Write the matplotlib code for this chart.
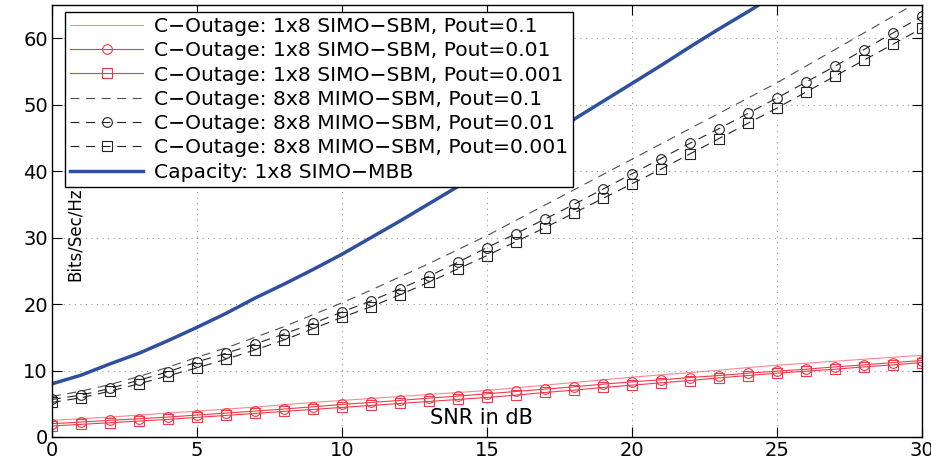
import numpy as np
import matplotlib
matplotlib.use("Agg")
import matplotlib.pyplot as plt

snr = list(range(0, 31))

s_p1 = [2.5, 2.75, 3.0, 3.3, 3.6, 3.9, 4.2, 4.5, 4.85, 5.2, 5.5, 5.8, 6.1, 6.4, 6.7, 7.0,
        7.4, 7.8, 8.2, 8.6, 9.0, 9.35, 9.7, 10.05, 10.45, 10.8, 11.1, 11.4, 11.7, 12.0, 12.3]
s_p01 = [2.0, 2.25, 2.5, 2.75, 3.0, 3.3, 3.6, 3.9, 4.2, 4.55, 4.9, 5.2, 5.5, 5.85, 6.15, 6.5,
         6.85, 7.2, 7.55, 7.95, 8.3, 8.6, 8.95, 9.25, 9.6, 9.9, 10.2, 10.55, 10.85, 11.2, 11.5]
s_p001 = [1.65, 1.9, 2.15, 2.4, 2.65, 2.95, 3.25, 3.55, 3.85, 4.15, 4.45, 4.75, 5.05, 5.35, 5.65, 5.95,
          6.3, 6.7, 7.05, 7.45, 7.8, 8.15, 8.5, 8.9, 9.25, 9.6, 9.9, 10.2, 10.55, 10.85, 11.2]

m_p1 = [6.1, 6.9, 7.9, 9.1, 10.5, 12.0, 13.4, 15.0, 16.6, 18.4, 20.2, 22.1, 24.1, 26.1, 28.2, 30.3,
        32.6, 34.9, 37.2, 39.5, 41.8, 44.1, 46.4, 48.7, 51.0, 53.3, 55.8, 58.3, 60.8, 63.3, 65.8]
m_p01 = [5.65, 6.3, 7.3, 8.55, 9.8, 11.3, 12.6, 14.0, 15.5, 17.1, 18.8, 20.5, 22.3, 24.2, 26.3, 28.5,
         30.6, 32.8, 35.0, 37.3, 39.6, 41.9, 44.2, 46.4, 48.7, 51.0, 53.4, 55.8, 58.3, 60.8, 63.3]
m_p001 = [5.2, 5.9, 6.9, 8.0, 9.2, 10.4, 11.7, 13.1, 14.6, 16.3, 18.0, 19.6, 21.4, 23.3, 25.3, 27.3,
          29.4, 31.5, 33.7, 35.9, 38.1, 40.3, 42.6, 44.9, 47.2, 49.5, 51.9, 54.3, 56.7, 59.1, 61.5]

cap = [8.0, 9.3, 11.0, 12.6, 14.5, 16.5, 18.6, 20.9, 23.0, 25.2, 27.5, 30.0, 32.5, 35.1, 37.7, 40.3,
       42.8, 45.3, 47.8, 50.5, 53.2, 55.9, 58.7, 61.4, 64.0, 66.7, 69.4, 72.1, 74.8, 77.5, 80.2]

labels = ["C\u2212Outage: 1x8 SIMO\u2212SBM, Pout=0.1",
          "C\u2212Outage: 1x8 SIMO\u2212SBM, Pout=0.01",
          "C\u2212Outage: 1x8 SIMO\u2212SBM, Pout=0.001",
          "C\u2212Outage: 8x8 MIMO\u2212SBM, Pout=0.1",
          "C\u2212Outage: 8x8 MIMO\u2212SBM, Pout=0.01",
          "C\u2212Outage: 8x8 MIMO\u2212SBM, Pout=0.001",
          "Capacity: 1x8 SIMO\u2212MBB"]

plt.rcParams['font.family'] = ['DejaVu Sans']

fig = plt.figure(figsize=(9.31, 4.59), dpi=100)
ax = fig.add_axes([52/931, 22/459, 870/931, 432/459])

red = '#f03a4a'
blk = '#222222'
ax.plot(snr, s_p1, color=red, lw=0.8, alpha=0.6, label=labels[0])
ax.plot(snr, s_p01, color=red, lw=0.8, marker='o', ms=7, mfc='none', mew=0.8, label=labels[1])
ax.plot(snr, s_p001, color=red, lw=0.8, marker='s', ms=7, mfc='none', mew=0.8, label=labels[2])
ax.plot(snr, m_p1, color=blk, lw=0.8, ls=(0, (8, 6)), alpha=0.8, label=labels[3])
ax.plot(snr, m_p01, color=blk, lw=0.8, ls=(0, (8, 6)), marker='o', ms=7, mfc='none', mew=0.8, label=labels[4])
ax.plot(snr, m_p001, color=blk, lw=0.8, ls=(0, (8, 6)), marker='s', ms=7, mfc='none', mew=0.8, label=labels[5])
ax.plot(snr, cap, color='#2f4f9f', lw=2.5, label=labels[6])

ax.set_xlim(0, 30)
ax.set_ylim(0, 65)
ax.set_xticks(range(0, 31, 5))
ax.set_yticks(range(0, 61, 10))
ax.grid(True, ls=(0, (1, 4)), color='#999999', lw=0.8)
ax.tick_params(direction='in', length=7, top=True, right=True, labelsize=14, pad=3)
for sp in ax.spines.values():
    sp.set_linewidth(1.0)

ax.text(0.026, 0.47, 'Bits/Sec/Hz', transform=ax.transAxes, rotation=90,
        ha='center', va='center', fontsize=12)
ax.text(0.494, 0.045, 'SNR in dB', transform=ax.transAxes, ha='center', va='center', fontsize=15)

leg = ax.legend(loc='upper left', bbox_to_anchor=(0.015, 0.984), borderaxespad=0,
                fancybox=False, framealpha=1, edgecolor='black', fontsize=14.6,
                handlelength=3.6, handletextpad=0.55, labelspacing=0.26, borderpad=0.25)
leg.get_frame().set_linewidth(1.0)

fig.savefig('out.png', dpi=100)
